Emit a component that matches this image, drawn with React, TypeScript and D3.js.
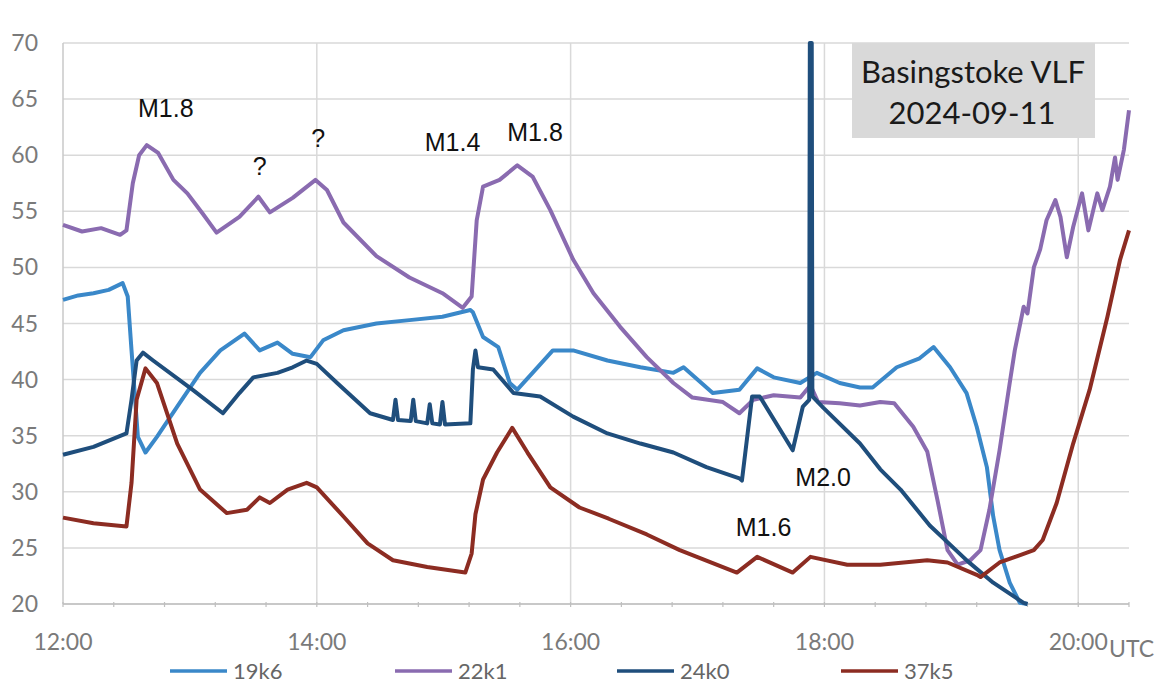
import React from "react";
import * as d3 from "d3";

// time in clock hours (UTC), value in dB
const s19k6: [number, number][] = [[12.0,47.1],[12.12,47.5],[12.24,47.7],[12.36,48.0],[12.47,48.6],[12.51,47.4],[12.54,42.6],[12.59,34.9],[12.65,33.5],[12.74,34.9],[12.90,37.6],[13.08,40.6],[13.24,42.6],[13.43,44.1],[13.55,42.6],[13.69,43.3],[13.81,42.3],[13.95,42.0],[14.05,43.5],[14.21,44.4],[14.47,45.0],[14.73,45.3],[14.99,45.6],[15.21,46.2],[15.23,46.0],[15.31,43.8],[15.43,42.9],[15.52,39.7],[15.58,39.1],[15.70,40.6],[15.86,42.6],[16.02,42.6],[16.29,41.7],[16.55,41.1],[16.81,40.6],[16.89,41.1],[17.12,38.8],[17.33,39.1],[17.47,41.0],[17.60,40.2],[17.81,39.7],[17.94,40.6],[18.12,39.7],[18.28,39.3],[18.38,39.3],[18.57,41.1],[18.75,41.9],[18.86,42.9],[18.99,41.1],[19.12,38.8],[19.20,35.8],[19.28,32.2],[19.33,27.8],[19.38,24.8],[19.46,21.9],[19.54,20.1],[19.60,20.0]];
const s22k1: [number, number][] = [[12.0,53.8],[12.15,53.2],[12.3,53.5],[12.45,52.9],[12.50,53.3],[12.55,57.5],[12.60,60.0],[12.66,60.9],[12.75,60.2],[12.87,57.8],[12.98,56.6],[13.10,54.8],[13.21,53.1],[13.39,54.5],[13.54,56.3],[13.63,54.9],[13.81,56.2],[13.99,57.8],[14.08,56.9],[14.21,54.0],[14.47,51.0],[14.73,49.1],[14.99,47.7],[15.15,46.4],[15.22,47.4],[15.26,54.2],[15.31,57.2],[15.44,57.8],[15.58,59.1],[15.70,58.1],[15.84,55.1],[16.02,50.7],[16.18,47.7],[16.39,44.7],[16.60,42.0],[16.81,39.7],[16.96,38.4],[17.20,38.0],[17.33,37.0],[17.44,38.2],[17.60,38.6],[17.81,38.4],[17.89,39.5],[17.95,38.0],[18.12,37.9],[18.28,37.7],[18.44,38.0],[18.55,37.9],[18.70,35.8],[18.81,33.6],[18.89,29.3],[18.97,24.8],[19.05,23.5],[19.15,23.9],[19.23,24.8],[19.30,28.4],[19.38,33.7],[19.46,39.7],[19.50,42.6],[19.57,46.5],[19.60,45.9],[19.65,50.0],[19.70,51.6],[19.75,54.2],[19.82,56.0],[19.86,54.5],[19.91,50.9],[19.96,53.6],[20.03,56.6],[20.08,53.3],[20.15,56.6],[20.19,55.1],[20.25,57.2],[20.29,59.8],[20.31,57.8],[20.36,60.5],[20.40,64.0]];
const s24k0: [number, number][] = [[12.0,33.3],[12.24,34.0],[12.50,35.2],[12.54,38.2],[12.58,41.7],[12.63,42.4],[12.71,41.7],[13.02,39.1],[13.26,37.0],[13.39,38.8],[13.50,40.2],[13.69,40.6],[13.81,41.1],[13.92,41.7],[14.0,41.4],[14.16,39.7],[14.42,37.0],[14.60,36.4],[14.62,38.2],[14.64,36.4],[14.74,36.3],[14.76,38.2],[14.78,36.3],[14.87,36.1],[14.89,37.8],[14.91,36.1],[14.97,36.0],[14.99,38.0],[15.01,36.0],[15.21,36.1],[15.23,40.9],[15.25,42.6],[15.27,41.1],[15.39,40.9],[15.55,38.8],[15.76,38.5],[16.02,36.7],[16.29,35.2],[16.55,34.3],[16.81,33.5],[17.07,32.2],[17.33,31.2],[17.35,31.0],[17.43,38.5],[17.49,38.5],[17.75,33.7],[17.83,37.6],[17.88,38.2],[17.885,70],[17.90,70],[17.905,38.5],[17.99,37.5],[18.28,34.3],[18.44,32.0],[18.60,30.2],[18.83,27.0],[19.13,23.8],[19.33,21.9],[19.57,20.1],[19.60,20.0]];
const s37k5: [number, number][] = [[12.0,27.7],[12.24,27.2],[12.50,26.9],[12.54,30.8],[12.58,38.2],[12.65,41.0],[12.74,39.7],[12.90,34.3],[13.08,30.2],[13.29,28.1],[13.45,28.4],[13.55,29.5],[13.63,29.0],[13.77,30.2],[13.92,30.8],[14.0,30.4],[14.21,27.8],[14.40,25.4],[14.60,23.9],[14.87,23.3],[15.17,22.8],[15.22,24.5],[15.25,28.0],[15.31,31.1],[15.42,33.5],[15.54,35.7],[15.66,33.5],[15.84,30.4],[16.07,28.6],[16.3,27.6],[16.6,26.2],[16.86,24.8],[17.31,22.8],[17.47,24.2],[17.75,22.8],[17.89,24.2],[18.18,23.5],[18.44,23.5],[18.81,23.9],[18.97,23.7],[19.20,22.6],[19.23,22.4],[19.38,23.7],[19.65,24.8],[19.72,25.7],[19.83,29.0],[19.96,34.3],[20.09,39.1],[20.23,45.6],[20.33,50.7],[20.40,53.3]];

const seriesNames = ["19k6", "22k1", "24k0", "37k5"];
const seriesColors = ["#3a88c9", "#8a6bb0", "#1f4e7c", "#8c2c22"];
const seriesData = [s19k6, s22k1, s24k0, s37k5];

const yTicks = [20, 25, 30, 35, 40, 45, 50, 55, 60, 65, 70];
const xLabelHours = [12, 14, 16, 18, 20];
const xLabels = ["12:00", "14:00", "16:00", "18:00", "20:00"];

// annotation anchor: time (hours) and value (baseline position)
const annotations: { text: string; t: number; v: number }[] = [
  { text: "M1.8", t: 12.81, v: 63.4 },
  { text: "?", t: 13.55, v: 58.2 },
  { text: "?", t: 14.01, v: 60.7 },
  { text: "M1.4", t: 15.07, v: 60.4 },
  { text: "M1.8", t: 15.72, v: 61.3 },
  { text: "M2.0", t: 17.99, v: 30.5 },
  { text: "M1.6", t: 17.52, v: 26.1 },
];

const titleLines = ["Basingstoke VLF", "2024-09-11"];

export default function App() {
  const left = 63, right = 1129, top = 43, bottom = 604;
  const x = d3.scaleLinear().domain([12, 20.4]).range([left, right]);
  const y = d3.scaleLinear().domain([20, 70]).range([bottom, top]);
  const line = d3.line<[number, number]>().x((d) => x(d[0])).y((d) => y(d[1]));
  const minorTicks = d3.range(0, 22).map((i) => 12 + (i * 24) / 60).filter((t) => t <= 20.41);

  const legendX = [170, 395, 617, 841];
  const axisFont = "Lato, 'Open Sans', sans-serif";

  return (
    <svg width={1156} height={684} style={{ position: "absolute", left: 0, top: 0, background: "#fff" }}>
      <rect x={0} y={0} width={1156} height={684} fill="#fff" />
      {yTicks.map((v) => (
        <line key={"g" + v} x1={left} x2={right} y1={y(v)} y2={y(v)} stroke="#d9d9d9" strokeWidth={1.5} />
      ))}
      {xLabelHours.slice(1).map((h) => (
        <line key={"v" + h} x1={x(h)} x2={x(h)} y1={top} y2={bottom} stroke="#d9d9d9" strokeWidth={1.5} />
      ))}
      <line x1={left} x2={left} y1={top} y2={bottom} stroke="#c8c8c8" strokeWidth={1.5} />
      <line x1={left} x2={right} y1={bottom} y2={bottom} stroke="#bfbfbf" strokeWidth={1.5} />
      {minorTicks.map((t, i) => (
        <line key={"t" + i} x1={x(t)} x2={x(t)} y1={bottom - 2} y2={bottom + 3} stroke="#bfbfbf" strokeWidth={1.2} />
      ))}
      {yTicks.map((v) => (
        <text key={"yl" + v} x={38} y={y(v) + 8} textAnchor="end" fontFamily={axisFont} fontSize={23} fill="#7a7a7a">
          {v}
        </text>
      ))}
      {xLabelHours.map((h, i) => (
        <text key={"xl" + h} x={x(h)} y={650} textAnchor="middle" fontFamily={axisFont} fontSize={23} fill="#7a7a7a">
          {xLabels[i]}
        </text>
      ))}
      <text x={1109} y={657} fontFamily={axisFont} fontSize={23} fill="#7a7a7a">UTC</text>

      <rect x={852} y={43} width={243} height={95} fill="#d9d9d9" />
      <text x={973} y={83} textAnchor="middle" fontFamily={axisFont} fontSize={31} fill="#1a1a1a">{titleLines[0]}</text>
      <text x={972} y={124} textAnchor="middle" fontFamily={axisFont} fontSize={31} fill="#1a1a1a">{titleLines[1]}</text>

      {seriesData.map((d, i) => (
        <path key={seriesNames[i]} d={line(d) || ""} fill="none" stroke={seriesColors[i]} strokeWidth={4} strokeLinejoin="round" />
      ))}

      {annotations.map((a, i) => (
        <text key={"a" + i} x={x(a.t)} y={y(a.v)} textAnchor="middle" fontFamily="'Liberation Sans', Arial, sans-serif" fontSize={25} fill="#111">
          {a.text}
        </text>
      ))}

      {seriesNames.map((n, i) => (
        <g key={"lg" + n}>
          <line x1={legendX[i]} x2={legendX[i] + 57} y1={671} y2={671} stroke={seriesColors[i]} strokeWidth={3.5} />
          <text x={legendX[i] + 63} y={679} fontFamily={axisFont} fontSize={22} fill="#666">{n}</text>
        </g>
      ))}
    </svg>
  );
}
